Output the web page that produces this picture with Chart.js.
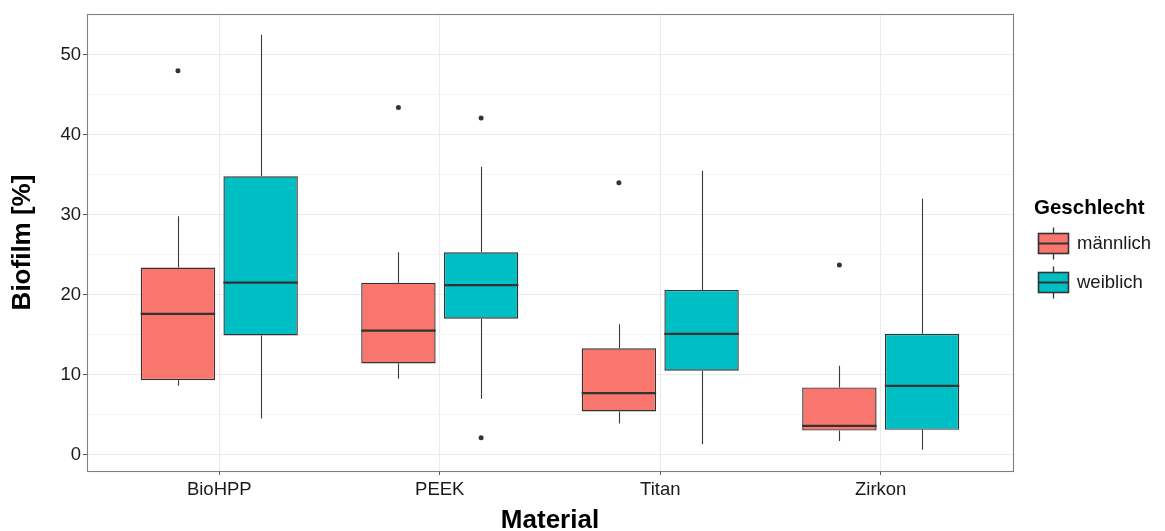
<!DOCTYPE html>
<html>
<head>
<meta charset="utf-8">
<script src="https://cdn.jsdelivr.net/npm/chart.js@4.4.1/dist/chart.umd.min.js"></script>
<style>
  html,body{margin:0;padding:0;background:#fff;}
  canvas{display:block;}
</style>
</head>
<body>
<canvas id="chart" width="1165" height="531"></canvas>
<script>
'use strict';
// data (Biofilm %)
const materials=['BioHPP','PEEK','Titan','Zirkon'];
const groups=['männlich','weiblich'];
const groupColors=['#F8766D','#00BFC4'];

const maleMin=[8.6,9.5,3.9,1.7];
const maleQ1=[9.3,11.4,5.4,3.0];
const maleMedian=[17.6,15.5,7.7,3.6];
const maleQ3=[23.4,21.5,13.3,8.4];
const maleMax=[29.8,25.3,16.3,11.1];
const maleOutliers=[[48.0],[43.4],[34.0],[23.7]];

const femaleMin=[4.5,7.0,1.3,0.6];
const femaleQ1=[14.9,17.0,10.5,3.1];
const femaleMedian=[21.5,21.2,15.1,8.6];
const femaleQ3=[34.8,25.3,20.6,15.1];
const femaleMax=[52.5,36.0,35.5,32.0];
const femaleOutliers=[[],[42.1,2.1],[],[]];

const yTicks=[0,5,10,15,20,25,30,35,40,45,50];

const stats=[
  {min:maleMin,q1:maleQ1,med:maleMedian,q3:maleQ3,max:maleMax,out:maleOutliers},
  {min:femaleMin,q1:femaleQ1,med:femaleMedian,q3:femaleQ3,max:femaleMax,out:femaleOutliers},
];

const FONT='"Liberation Sans", Arial, sans-serif';
const INK='#333333';
const DODGE=0.1875;
Chart.defaults.font.family=FONT;

// whiskers + medians drawn from the bar elements and the y scale
const boxParts={
  id:'boxParts',
  afterDatasetsDraw(chart){
    const {ctx,scales:{y}}=chart;
    ctx.save();
    stats.forEach((s,d)=>{
      const meta=chart.getDatasetMeta(d);
      meta.data.forEach((el,i)=>{
        const cx=Math.round(el.x)+0.5;
        ctx.strokeStyle='#3a3a3a';ctx.lineWidth=1.1;
        ctx.beginPath();
        ctx.moveTo(cx,y.getPixelForValue(s.q3[i]));ctx.lineTo(cx,y.getPixelForValue(s.max[i]));
        ctx.moveTo(cx,y.getPixelForValue(s.q1[i]));ctx.lineTo(cx,y.getPixelForValue(s.min[i]));
        ctx.stroke();
        const my=y.getPixelForValue(s.med[i]);
        ctx.strokeStyle=INK;ctx.lineWidth=2.3;
        ctx.beginPath();
        ctx.moveTo(el.x-el.width/2,my);ctx.lineTo(el.x+el.width/2,my);
        ctx.stroke();
      });
    });
    ctx.restore();
  },
  afterDraw(chart){
    const {ctx,chartArea:a}=chart;
    ctx.save();
    // panel border
    ctx.strokeStyle='#7f7f7f';ctx.lineWidth=1.1;
    ctx.strokeRect(Math.round(a.left)+0.5,Math.round(a.top)+0.5,Math.round(a.right-a.left),Math.round(a.bottom-a.top));
    // legend
    ctx.fillStyle='#000';
    ctx.font='bold 20.5px '+FONT;
    ctx.textBaseline='alphabetic';ctx.textAlign='left';
    ctx.fillText('Geschlecht',1034,213.5);
    groups.forEach((g,k)=>{
      const cy=243.5+k*39,x0=1038.5,w=30,h=20;
      ctx.strokeStyle=INK;
      ctx.lineWidth=1.3;
      ctx.beginPath();ctx.moveTo(x0+w/2,cy-16);ctx.lineTo(x0+w/2,cy+16);ctx.stroke();
      ctx.fillStyle=groupColors[k];
      ctx.fillRect(x0,cy-h/2,w,h);
      ctx.lineWidth=1.6;
      ctx.strokeRect(x0,cy-h/2,w,h);
      ctx.lineWidth=2;
      ctx.beginPath();ctx.moveTo(x0,cy);ctx.lineTo(x0+w,cy);ctx.stroke();
      ctx.fillStyle='#1a1a1a';
      ctx.font='18.5px '+FONT;
      ctx.textBaseline='middle';
      ctx.fillText(g,1077,cy);
    });
    ctx.restore();
  }
};

const boxSets=stats.map((s,d)=>({
  type:'bar',
  label:groups[d],
  data:materials.map((m,i)=>({x:i,y:[s.q1[i],s.q3[i]]})),
  backgroundColor:groupColors[d],
  borderColor:INK,
  borderWidth:1.4,
  borderSkipped:false,
  categoryPercentage:0.75,
  barPercentage:0.9,
}));

const outlierSets=stats.map((s,d)=>({
  type:'scatter',
  label:groups[d]+' Ausreißer',
  data:s.out.flatMap((vals,i)=>vals.map(v=>({x:i+(d===0?-DODGE:DODGE),y:v}))),
  pointRadius:2.5,
  pointBackgroundColor:INK,
  pointBorderWidth:0,
}));

new Chart(document.getElementById('chart'),{
  type:'bar',
  data:{datasets:[...boxSets,...outlierSets]},
  plugins:[boxParts],
  options:{
    responsive:false,
    animation:false,
    layout:{padding:{top:14,right:152,left:0,bottom:0}},
    plugins:{legend:{display:false},tooltip:{enabled:false}},
    scales:{
      x:{
        type:'linear',
        offset:false,
        min:-0.6,max:3.6,
        afterBuildTicks:s=>{s.ticks=materials.map((m,i)=>({value:i}));},
        afterFit:s=>{s.height=60;},
        grid:{offset:false,color:'#ebebeb',lineWidth:1,tickLength:4,tickColor:'#555'},
        border:{display:false},
        ticks:{callback:v=>materials[v],color:'#1a1a1a',font:{size:18.5},padding:4,autoSkip:false,maxRotation:0},
        title:{display:true,text:'Material',color:'#000',font:{size:26,weight:'bold',lineHeight:0.8},padding:{top:0,bottom:0}},
      },
      y:{
        type:'linear',
        min:-2.05,max:55.1,
        afterBuildTicks:s=>{s.ticks=yTicks.map(v=>({value:v}));},
        afterFit:s=>{s.width=87;},
        grid:{
          color:c=>c.tick&&c.tick.value%10===0?'#ebebeb':'#f4f4f4',
          lineWidth:1,tickLength:4,
          tickColor:c=>c.tick&&c.tick.value%10===0?'#555':'rgba(0,0,0,0)',
        },
        border:{display:false},
        ticks:{callback:v=>v%10===0?String(v):'',color:'#1a1a1a',font:{size:18.5},padding:2},
        title:{display:true,text:'Biofilm [%]',color:'#000',font:{size:26,weight:'bold',lineHeight:1.2},padding:{top:7,bottom:0}},
      },
    },
  },
});
</script>
</body>
</html>
